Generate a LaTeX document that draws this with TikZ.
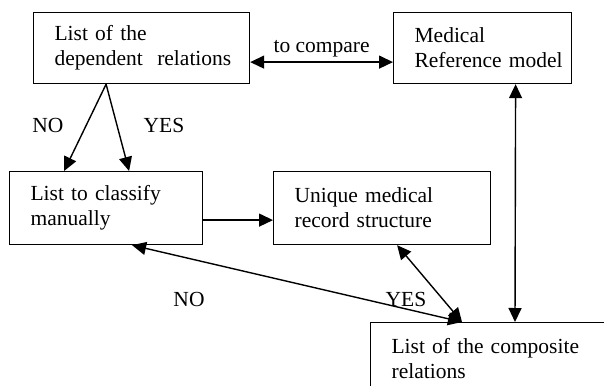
\documentclass[tikz,border=0pt]{standalone}
\usepackage{fontspec}
\setmainfont{Liberation Serif}
\usetikzlibrary{arrows.meta}
\tikzset{
	listbox/.style={draw, line width=1.2pt, anchor=north west, align=left, inner xsep=21pt, inner ysep=0pt, minimum height=71pt},
	link/.style={line width=1.4pt}
}

\begin{document}
\begin{tikzpicture}[x=1pt, y=-1pt, font=\fontsize{21.5}{25}\selectfont, >={Triangle[length=14pt,width=13pt]}]
	\useasboundingbox (0,0) rectangle (604,385);
	\clip (0,0) rectangle (604,385);

	%the lists and models
	\node[listbox, text width=174pt] (dep) at (33,12) {List of the\\\mbox{dependent\ \ relations}};
	\node[listbox, text width=136pt] (ref) at (393,12) {Medical\\\mbox{Reference model}};
	\node[listbox, text width=151pt, minimum height=73pt] (man) at (9,171) {List to classify\\manually};
	\node[listbox, text width=175pt, minimum height=73pt] (uni) at (273,171) {Unique medical\\record structure};
	\node[listbox, text width=218pt] (comp) at (370,322) {List of the composite\\relations};

	%comparison with the reference model
	\draw[link, <->] ([yshift=-14pt]dep.east) -- node[above=1pt] (cmp) {to compare} ([yshift=-14pt]ref.west);
	\draw[link, <->] ([xshift=33pt]ref.south) -- ([xshift=145pt]comp.north west);

	%dependent relations split
	\draw[link, ->] (man.north |- dep.south) -- ([xshift=-42pt]man.north);
	\draw[link, ->] (man.north |- dep.south) -- ([xshift=23pt]man.north);
	\node (no1) at (48,125) {NO};
	\node (yes1) at (164,125) {YES};

	%manual classification into the record
	\draw[link, ->] ([yshift=-12pt]man.east) -- ([yshift=-12pt]uni.west);

	%composite relations
	\draw[link, <->] ([xshift=26pt]man.south) -- ([xshift=92pt]comp.north west);
	\draw[link, <->] ([xshift=15pt]uni.south) -- ([xshift=92pt]comp.north west);
	\node (no2) at (189,299) {NO};
	\node (yes2) at (406,299) {YES};

\end{tikzpicture}
\end{document}
